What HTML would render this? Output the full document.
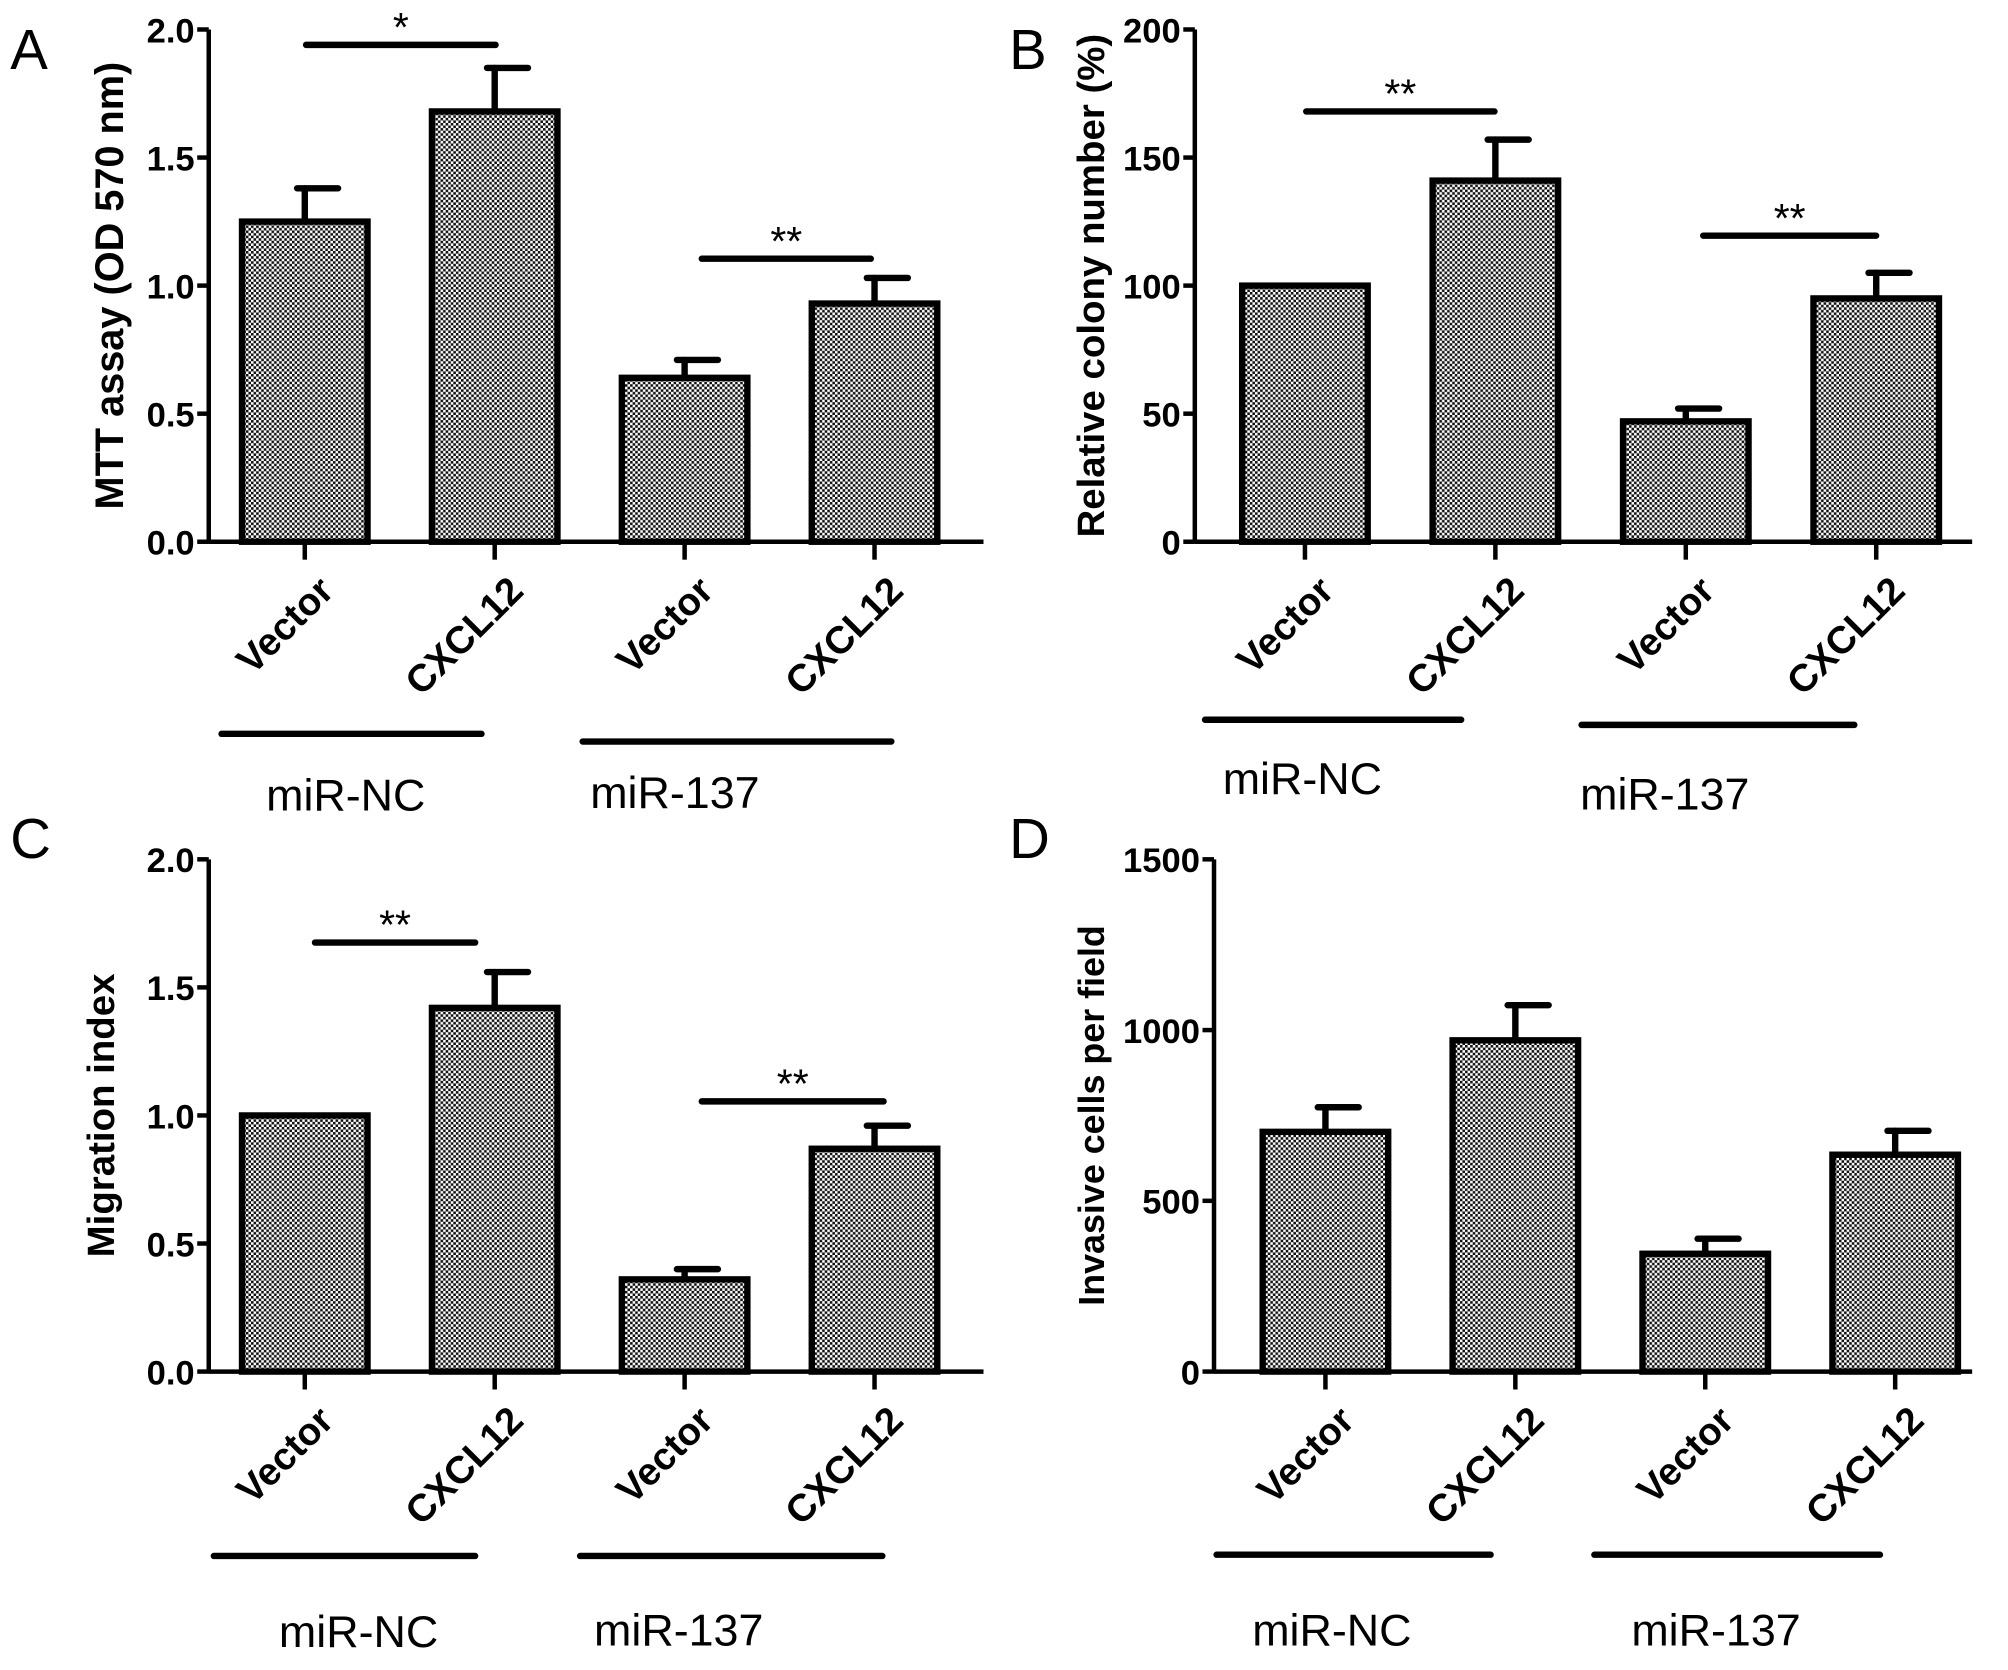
<!DOCTYPE html>
<html><head><meta charset="utf-8">
<style>
html,body{margin:0;padding:0;background:#fff;}
svg{display:block;}
text{font-family:"Liberation Sans",Arial,sans-serif;}
</style></head>
<body>
<svg id="fig" width="2008" height="1670" viewBox="0 0 1568 1304" xmlns="http://www.w3.org/2000/svg">
<defs>
<pattern id="chk" width="4" height="4" patternUnits="userSpaceOnUse">
<rect width="4" height="4" fill="#fff"/>
<rect width="2" height="2" fill="#111"/>
<rect x="2" y="2" width="2" height="2" fill="#111"/>
</pattern>
</defs>
</svg>
<script>
const categories = ["Vector","CXCL12","Vector","CXCL12"];
const groups = ["miR-NC","miR-137"];
const valuesA = [1.25,1.68,0.64,0.93];
const errorsA = [0.13,0.17,0.07,0.10];
const ticksA = ["0.0","0.5","1.0","1.5","2.0"];
const valuesB = [100,141,47,95];
const errorsB = [0,16,5,10];
const ticksB = ["0","50","100","150","200"];
const valuesC = [1.0,1.42,0.36,0.87];
const errorsC = [0,0.14,0.04,0.09];
const ticksC = ["0.0","0.5","1.0","1.5","2.0"];
const valuesD = [702,970,345,635];
const errorsD = [72,103,44,70];
const ticksD = ["0","500","1000","1500"];
const sigA = [[0,1,"*"],[2,3,"**"]];
const sigB = [[0,1,"**"],[2,3,"**"]];
const sigC = [[0,1,"**"],[2,3,"**"]];
const sigD = [];

const NS="http://www.w3.org/2000/svg";
const svg=document.getElementById('fig');
function mk(tag,attrs,parent){const e=document.createElementNS(NS,tag);for(const k in attrs)e.setAttribute(k,attrs[k]);(parent||svg).appendChild(e);return e;}

function panel(cfg){
  const g=mk('g',{});
  
  
  const maxV=parseFloat(cfg.ticks[cfg.ticks.length-1]);
  const y=v=>cfg.y0-(v/maxV)*(cfg.y0-cfg.yTop);
  const x=i=>cfg.x0+cfg.step*i;
  const L=mk('text',{x:cfg.lx,y:cfg.ly,'font-size':44},g);L.textContent=cfg.letter;
  
  
  cfg.values.forEach((v,i)=>{
    const cx=x(i), w=98;
    const b=mk('rect',{x:cx-w/2,y:y(v),width:w,height:cfg.y0-y(v),fill:'url(#chk)',stroke:'#000','stroke-width':5},g);
    
    
    const e=cfg.errors[i];
    if(e>0){
      const eg=mk('g',{stroke:'#000','stroke-width':5,'stroke-linecap':'round'},g);
      
      
      mk('line',{x1:cx,x2:cx,y1:y(v),y2:y(v+e)},eg);
      mk('line',{x1:cx-6,x2:cx+26,y1:y(v+e),y2:y(v+e)},eg);
    }
  });
  const ax=mk('g',{stroke:'#000','stroke-width':3.5},g);
  
  
  mk('line',{x1:cfg.ax,x2:cfg.ax,y1:cfg.yTop,y2:cfg.y0+1.5},ax);
  mk('line',{x1:cfg.ax,x2:cfg.xEnd,y1:cfg.y0,y2:cfg.y0},ax);
  cfg.ticks.forEach(t=>{
    const v=parseFloat(t), yy=y(v);
    mk('line',{x1:cfg.ax-9,x2:cfg.ax,y1:yy,y2:yy},ax);
    const tl=mk('text',{x:cfg.ax-11,y:yy+10,'font-size':27,'font-weight':'bold','text-anchor':'end'},g);
    tl.textContent=t;
    
    
  });
  categories.forEach((c,i)=>{
    const cx=x(i);
    mk('line',{x1:cx,x2:cx,y1:cfg.y0,y2:cfg.y0+14},ax);
    const tx=cx+24, ty=cfg.y0+40;
    const t=mk('text',{x:tx,y:ty,'font-size':30,'font-weight':'bold','text-anchor':'end',transform:`rotate(-45 ${tx} ${ty})`},g);
    t.textContent=c;
    
    
  });
  const yc=(cfg.y0+cfg.yTop)/2;
  const yt=mk('text',{x:cfg.tx,y:yc,'font-size':cfg.tfs,'font-weight':'bold','text-anchor':'middle',transform:`rotate(-90 ${cfg.tx} ${yc})`},g);
  yt.textContent=cfg.title;
  
  
  cfg.sig.forEach((s,k)=>{
    const ly=cfg.sigY[k];
    const sl=mk('line',{x1:cfg.sigX[k][0],x2:cfg.sigX[k][1],y1:ly,y2:ly,stroke:'#000','stroke-width':5,'stroke-linecap':'round'},g);
    
    
    const st=mk('text',{x:(cfg.sigX[k][0]+cfg.sigX[k][1])/2,y:ly-3,'font-size':32,'text-anchor':'middle'},g);
    st.textContent=s[2];
    
    
  });
  groups.forEach((gname,k)=>{
    const gl=mk('line',{x1:cfg.gx[k][0],x2:cfg.gx[k][1],y1:cfg.gy[k],y2:cfg.gy[k],stroke:'#000','stroke-width':5,'stroke-linecap':'round'},g);
    
    
    const gt=mk('text',{x:cfg.glx[k],y:cfg.gly[k],'font-size':35,'text-anchor':'middle'},g);
    gt.textContent=gname;
    
    
  });
}

panel({letter:'A',lx:8,ly:54,values:valuesA,errors:errorsA,ticks:ticksA,sig:sigA,
  ax:163,xEnd:768,yTop:23,y0:423,x0:238,step:148.3,title:'MTT assay  (OD 570 nm)',tx:96,tfs:31,
  sigX:[[239,387],[548,680]],sigY:[35,202],gx:[[173,376],[455,696]],gy:[573,579],glx:[270,527],gly:[633,631]});
panel({letter:'B',lx:788,ly:54,values:valuesB,errors:errorsB,ticks:ticksB,sig:sigB,
  ax:933,xEnd:1540,yTop:23,y0:423,x0:1019,step:148.7,title:'Relative colony number  (%)',tx:862,tfs:30,
  sigX:[[1020,1167],[1330,1465]],sigY:[87,184],gx:[[941,1141],[1235,1448]],gy:[562,566],glx:[1017,1300],gly:[620,632]});
panel({letter:'C',lx:8,ly:670,values:valuesC,errors:errorsC,ticks:ticksC,sig:sigC,
  ax:163,xEnd:768,yTop:671,y0:1071,x0:238,step:148.3,title:'Migration index',tx:89,tfs:30,
  sigX:[[246,371],[548,690]],sigY:[736,860],gx:[[167,371],[453,689]],gy:[1215,1215],glx:[280,530],gly:[1286,1285]});
panel({letter:'D',lx:788,ly:670,values:valuesD,errors:errorsD,ticks:ticksD,sig:sigD,
  ax:948,xEnd:1540,yTop:671,y0:1071,x0:1035,step:148.3,title:'Invasive cells  per field',tx:862,tfs:28,
  sigX:[],sigY:[],gx:[[950,1164],[1245,1468]],gy:[1214,1214],glx:[1040,1340],gly:[1285,1285]});
</script>
</body></html>
